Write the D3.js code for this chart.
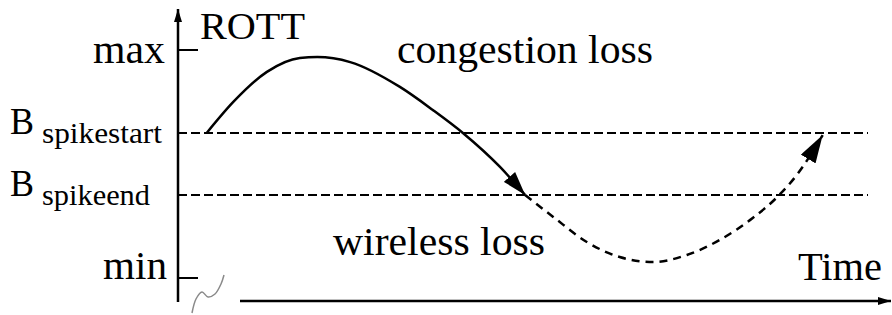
<!DOCTYPE html>
<html><head><meta charset="utf-8">
<script src="https://cdn.jsdelivr.net/npm/d3@7"></script>
<style>html,body{margin:0;padding:0;background:#fff;}svg{display:block;}</style>
</head><body>
<svg id="chart" width="892" height="315" font-family="Liberation Serif, Times New Roman, serif"></svg>
<script>
// ---- data ----
const yTickLabels = ["min", "max"];
const yTickValues = [0, 10];
const thresholdNames = ["spikestart", "spikeend"];
const thresholdValues = [6.36, 3.64];
// ROTT trajectory (time, ROTT): congestion part (solid) and wireless part (dashed)
const congestionCurve = [[0.41,6.36],[0.79,7.72],[1.27,9.04],[1.74,9.65],[1.99,9.69],[2.46,9.47],[3.17,8.38],[3.64,7.37],[4.07,6.36],[4.60,4.87],[4.96,3.64]];
const wirelessCurve = [[4.96,3.64],[5.36,2.68],[5.84,1.58],[6.31,0.92],[6.79,0.70],[7.27,1.01],[7.74,1.67],[8.21,2.63],[8.56,3.55],[8.84,4.52],[9.21,6.27]];
const axisTitles = ["ROTT", "Time"];
const regionLabels = ["congestion loss", "wireless loss"];

// ---- scales ----
const x = d3.scaleLinear().domain([0, 10]).range([178, 878]);
const y = d3.scaleLinear().domain([0, 10]).range([278, 50]);

const svg = d3.select("#chart");
const defs = svg.append("defs");

function arrowMarker(id, len, wid) {
  defs.append("marker").attr("id", id)
    .attr("markerUnits", "userSpaceOnUse")
    .attr("viewBox", `0 ${-wid/2} ${len} ${wid}`)
    .attr("refX", len).attr("refY", 0)
    .attr("markerWidth", len).attr("markerHeight", wid)
    .attr("orient", "auto")
    .append("path").attr("d", `M0,${-wid/2}L${len},0L0,${wid/2}Z`).attr("fill", "#000");
}
arrowMarker("arrSolid", 24, 15);
arrowMarker("arrDash", 28, 17);
arrowMarker("arrAxis", 13, 8);

// ---- axes ----
const x0 = x(0);
svg.append("line").attr("x1", x0).attr("x2", x0).attr("y1", 302).attr("y2", 9)
  .attr("stroke", "#000").attr("stroke-width", 2.5).attr("marker-end", "url(#arrAxis)");
svg.append("line").attr("x1", 240).attr("x2", 891).attr("y1", 301).attr("y2", 301)
  .attr("stroke", "#000").attr("stroke-width", 2.5).attr("marker-end", "url(#arrAxis)");
// axis break squiggle
svg.append("path")
  .attr("d", d3.line().curve(d3.curveCatmullRom)([[192,313],[196,299],[202,292],[208,297],[215,294],[221,284],[224,275]]))
  .attr("fill", "none").attr("stroke", "#8a8a8a").attr("stroke-width", 1.5);

// y ticks
yTickValues.forEach((v) => {
  svg.append("line").attr("x1", x0).attr("x2", x0 + 20).attr("y1", y(v)).attr("y2", y(v))
    .attr("stroke", "#000").attr("stroke-width", 2);
});
svg.append("text").text(yTickLabels[1]).attr("x", 93).attr("y", y(yTickValues[1]) + 13)
  .attr("font-size", 40).attr("textLength", 72).attr("lengthAdjust", "spacingAndGlyphs");
svg.append("text").text(yTickLabels[0]).attr("x", 103).attr("y", y(yTickValues[0]) + 1)
  .attr("font-size", 40).attr("textLength", 64).attr("lengthAdjust", "spacingAndGlyphs");

// thresholds
thresholdValues.forEach((v, i) => {
  svg.append("line").attr("x1", x0).attr("x2", 868).attr("y1", y(v)).attr("y2", y(v))
    .attr("stroke", "#000").attr("stroke-width", 2).attr("stroke-dasharray", "9,4");
  const t = svg.append("text").attr("fill", "#000");
  t.append("tspan").text("B").attr("x", 10).attr("y", y(v) + 1).attr("font-size", 38)
    .attr("textLength", 24).attr("lengthAdjust", "spacingAndGlyphs");
  t.append("tspan").text(thresholdNames[i]).attr("x", 42).attr("y", y(v) + 10).attr("font-size", 29)
    .attr("textLength", i === 0 ? 120 : 108).attr("lengthAdjust", "spacingAndGlyphs");
});

// ---- curves ----
const line = d3.line().x(d => x(d[0])).y(d => y(d[1])).curve(d3.curveMonotoneX);
svg.append("path").attr("d", line(congestionCurve)).attr("fill", "none")
  .attr("stroke", "#000").attr("stroke-width", 2.5).attr("marker-end", "url(#arrSolid)");
svg.append("path").attr("d", line(wirelessCurve)).attr("fill", "none")
  .attr("stroke", "#000").attr("stroke-width", 2.5).attr("stroke-dasharray", "8,6")
  .attr("marker-end", "url(#arrDash)");

// ---- labels ----
function label(txt, xp, yp, size, len) {
  svg.append("text").text(txt).attr("x", xp).attr("y", yp)
    .attr("font-size", size).attr("fill", "#000")
    .attr("textLength", len).attr("lengthAdjust", "spacingAndGlyphs");
}
label(axisTitles[0], 200, 39, 37, 105);
label(axisTitles[1], 798, 280, 39, 84);
label(regionLabels[0], 397, 63, 41, 256);
label(regionLabels[1], 333, 255, 40, 212);
</script>
</body></html>
